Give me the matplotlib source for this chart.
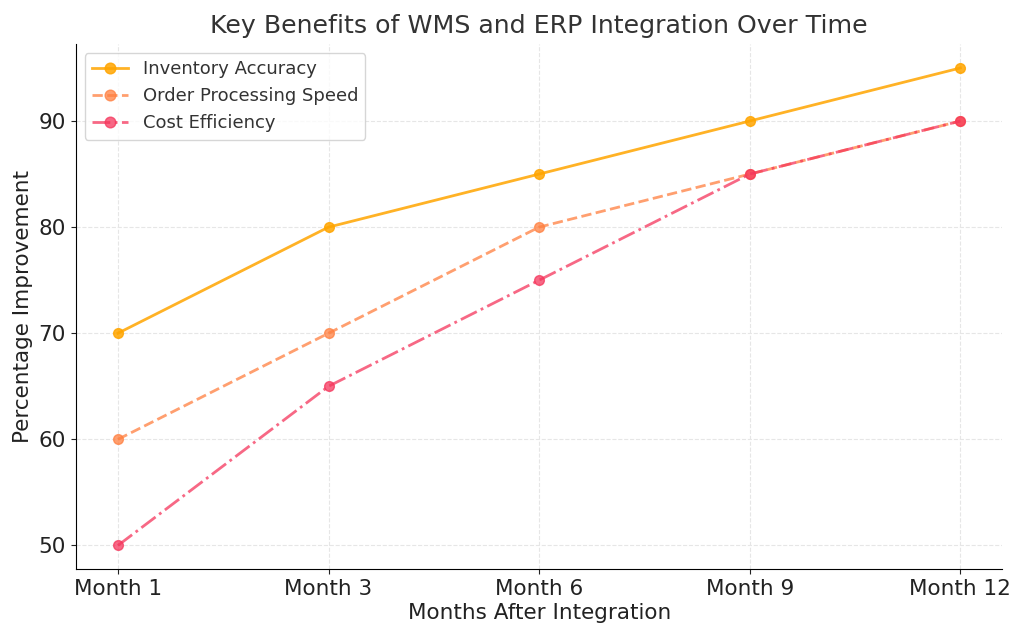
import matplotlib
matplotlib.use("Agg")
import matplotlib.pyplot as plt

months = ["Month 1", "Month 3", "Month 6", "Month 9", "Month 12"]
inventory_accuracy = [70, 80, 85, 90, 95]
order_speed = [60, 70, 80, 85, 90]
cost_efficiency = [50, 65, 75, 85, 90]

plt.rcParams['font.family'] = ['DejaVu Sans']
fig, ax = plt.subplots(figsize=(10.24, 6.39), dpi=100)
fig.subplots_adjust(left=0.074, right=0.979, top=0.931, bottom=0.109)

x = range(len(months))
ax.plot(x, inventory_accuracy, marker='o', linestyle='-', color='#FFA500', alpha=0.85,
        linewidth=2, markersize=7, label='Inventory Accuracy')
ax.plot(x, order_speed, marker='o', linestyle='--', color='#FF7F3F', alpha=0.75,
        linewidth=2, markersize=7, label='Order Processing Speed')
ax.plot(x, cost_efficiency, marker='o', linestyle='-.', color='#F5365C', alpha=0.75,
        linewidth=2, markersize=7, label='Cost Efficiency')

ax.set_xticks(list(x))
ax.set_xticklabels(months)
ax.set_yticks([50, 60, 70, 80, 90])
ax.tick_params(labelsize=15.5, colors='#222222')
ax.set_title('Key Benefits of WMS and ERP Integration Over Time', fontsize=18.2, color='#333333', pad=8)
ax.set_xlabel('Months After Integration', fontsize=15.5, color='#222222', labelpad=3)
ax.set_ylabel('Percentage Improvement', fontsize=15.5, color='#222222')
ax.grid(True, linestyle='--', color='#e6e6e6', linewidth=0.8)
for s in ['top', 'right']:
    ax.spines[s].set_visible(False)
leg = ax.legend(loc='upper left', fontsize=13, framealpha=0.8, markerscale=1.1)
for t in leg.get_texts():
    t.set_color('#333333')

fig.savefig('out.png', dpi=100)
